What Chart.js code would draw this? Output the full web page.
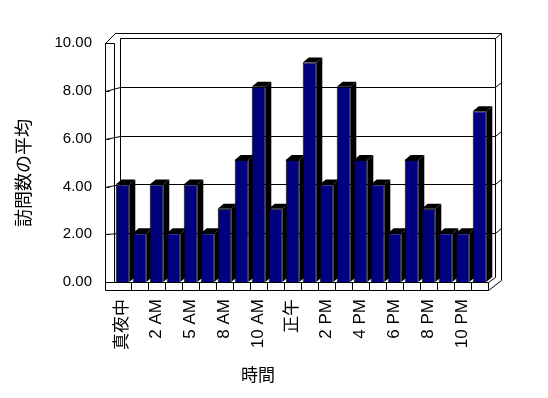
<!DOCTYPE html>
<html>
<head>
<meta charset="utf-8">
<script src="https://cdn.jsdelivr.net/npm/chart.js@4.4.0/dist/chart.umd.min.js"></script>
<style>
  html, body { margin: 0; padding: 0; background: #fff; }
</style>
</head>
<body>
<canvas id="visitChart" width="548" height="398"></canvas>
<script>
// 時間帯ごとの訪問数の平均
const hours = ['真夜中', '1 AM', '2 AM', '3 AM', '5 AM', '6 AM', '8 AM', '9 AM', '10 AM', '11 AM', '正午',
  '1 PM', '2 PM', '3 PM', '4 PM', '5 PM', '6 PM', '7 PM', '8 PM', '9 PM', '10 PM', '11 PM'];
const avgVisits = [4, 2, 4, 2, 4, 2, 3, 5, 8, 3, 5, 9, 4, 8, 5, 4, 2, 5, 3, 2, 2, 7];
const yTicks = [0, 2, 4, 6, 8, 10];

const latin = '"Liberation Sans", Arial, "Noto Sans CJK JP", sans-serif';

// 3D frame (walls, floor, gridlines) and bar depth faces
const box3d = {
  id: 'box3d',
  beforeDatasetsDraw(chart) {
    const { ctx, chartArea: ca, scales } = chart;
    const yb = scales.y, yf = scales.y2, xs = scales.x;
    const px = v => Math.round(v) + 0.5;
    const line = (x1, y1, x2, y2) => {
      ctx.beginPath(); ctx.moveTo(x1, y1); ctx.lineTo(x2, y2); ctx.stroke();
    };
    const fx = px(ca.left - 9);       // front edge of left wall
    const wx = px(ca.left);           // inner edge of left wall
    const bl = px(ca.left + 6);       // back wall left
    const br = px(ca.right + 7);      // back wall right (inner)
    const bo = px(ca.right + 13);     // back wall right (outer)
    const top = px(ca.top);
    const outTop = top - 5;
    const fb = px(ca.bottom);
    const floorB = fb + 8;
    const y10 = px(yf.getPixelForValue(10));

    ctx.save();
    ctx.strokeStyle = '#000';
    ctx.lineWidth = 1;

    // left wall
    line(fx, y10, fx, floorB);
    line(wx, y10, wx, fb);
    line(fx, y10, wx, y10);
    line(fx, y10, bl - 5, outTop);
    // back wall
    line(bl - 5, outTop, bo, outTop);
    line(bl, top, br, top);
    line(br, top, bo, outTop);
    line(bl, top, bl, fb - 5);
    line(br, top, br, fb - 5);
    line(bo, outTop, bo, fb - 2);

    // gridlines on back wall + wall edges
    yTicks.forEach(v => {
      const yy = px(yb.getPixelForValue(v));
      const yfv = px(yf.getPixelForValue(v));
      line(fx, yfv, fx + 4, yfv);
      if (v > 0 && v < 10) {
        line(bl, yy, br, yy);
        line(fx, yfv, bl, yy);
        line(br, yy, bo, yy - 5);
      }
    });

    // floor front strip with category dividers
    const right = px(ca.right);
    line(fx, fb, right, fb);
    line(fx, floorB, right, floorB);
    line(right, fb, right, floorB);
    for (let i = 1; i < hours.length; i++) {
      const dx = px((xs.getPixelForValue(i - 1) + xs.getPixelForValue(i)) / 2);
      line(dx, fb, dx, floorB);
    }
    line(right, floorB, bo, fb - 2);
    line(right, fb, br, fb - 5);

    // bar tops and sides
    const dX = 6, dY = 5;
    ctx.fillStyle = '#000';
    chart.getDatasetMeta(0).data.forEach(bar => {
      const { x, y, base, width } = bar.getProps(['x', 'y', 'base', 'width'], true);
      const xl = x - width / 2, xr = x + width / 2;
      ctx.beginPath();
      ctx.moveTo(xr, y); ctx.lineTo(xr + dX, y - dY);
      ctx.lineTo(xr + dX, base - dY); ctx.lineTo(xr, base);
      ctx.closePath(); ctx.fill();
      ctx.beginPath();
      ctx.moveTo(xl, y); ctx.lineTo(xl + dX, y - dY);
      ctx.lineTo(xr + dX, y - dY); ctx.lineTo(xr, y);
      ctx.closePath(); ctx.fill();
    });
    ctx.restore();
  },
  afterDraw(chart) {
    const ctx = chart.ctx;
    ctx.save();
    ctx.fillStyle = '#000';
    ctx.textAlign = 'center';
    ctx.textBaseline = 'middle';
    ctx.font = '17px ' + latin;
    ctx.fillText('時間', 258, 376);
    ctx.font = '18px ' + latin;
    ctx.translate(25, 173);
    ctx.rotate(-Math.PI / 2);
    ctx.fillText('訪問数の平均', 0, 0);
    ctx.restore();
  }
};

const ctx = document.getElementById('visitChart');
new Chart(ctx, {
  type: 'bar',
  data: {
    labels: hours,
    datasets: [{
      label: '訪問数の平均',
      data: avgVisits,
      backgroundColor: '#000080',
      borderColor: '#000',
      borderWidth: 1,
      barPercentage: 0.8,
      categoryPercentage: 1
    }]
  },
  options: {
    responsive: false,
    animation: false,
    layout: { padding: { left: 0, right: 60, top: 38, bottom: 0 } },
    plugins: { legend: { display: false }, tooltip: { enabled: false } },
    scales: {
      x: {
        grid: { display: false, drawTicks: false },
        border: { display: false },
        afterFit: s => { s.height = 116; },
        ticks: {
          autoSkip: false,
          minRotation: 90,
          maxRotation: 90,
          padding: 17,
          color: '#000',
          font: { family: latin, size: 17 },
          callback: function (v, i) { return i % 2 === 0 ? this.getLabelForValue(v) : ''; }
        }
      },
      y: { display: false, min: 0, max: 10 },
      y2: {
        position: 'left',
        min: 0,
        max: 10.22,
        afterBuildTicks: s => { s.ticks = yTicks.map(v => ({ value: v })); },
        afterFit: s => { s.width = 114; },
        grid: { display: false, drawTicks: false },
        border: { display: false },
        ticks: {
          padding: 22,
          color: '#000',
          font: { family: latin, size: 15 },
          callback: v => v.toFixed(2)
        }
      }
    }
  },
  plugins: [box3d]
});
</script>
</body>
</html>
